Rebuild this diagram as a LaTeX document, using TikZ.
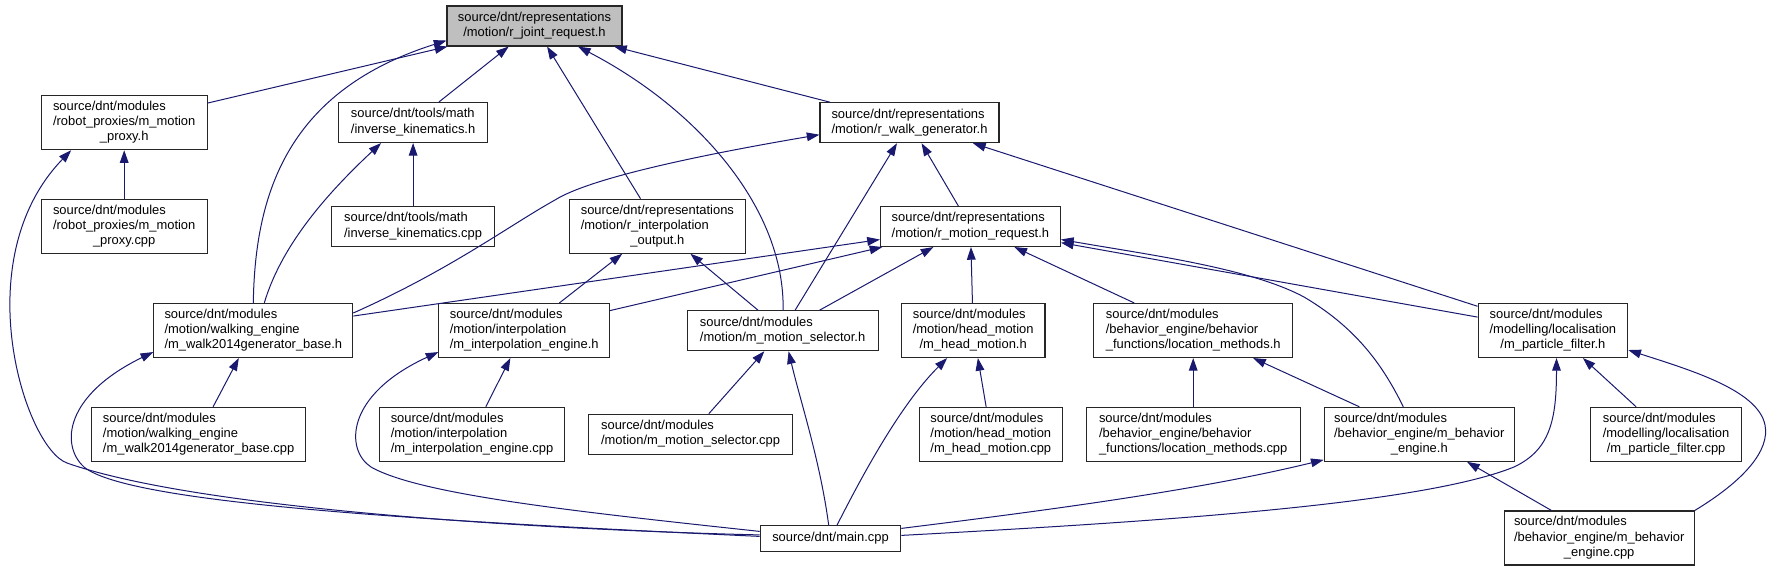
\documentclass[tikz,border=0pt]{standalone}
\usepackage{fontspec}
\setmainfont{Liberation Sans}
\usetikzlibrary{arrows.meta,calc}
\definecolor{edgeblue}{HTML}{191970}
\definecolor{focusgray}{HTML}{BFBFBF}
\newcommand\lns[1]{\begin{tabular}{@{}l@{}}#1\end{tabular}}
\newcommand\lc[1]{\multicolumn{1}{@{}c@{}}{#1}}
\begin{document}
\begin{tikzpicture}[x=0.75pt,y=-0.75pt,
  nbox/.style args={#1/#2}{draw=black!85, line width=0.8pt, fill=white, inner sep=0pt,
    minimum width=#1*0.75pt, minimum height=#2*0.75pt,
    font=\fontsize{9.7}{11.4}\selectfont},
  dep/.style={draw=edgeblue, line width=0.75pt, -{Triangle[length=9.5pt,width=6.5pt]}}]
\fill[white] (0,0) rectangle (1771,572);
\useasboundingbox (0,0) rectangle (1771,572);

% nodes
\node[nbox=175/40, fill=focusgray] (rj) at (534.5,26) {\lns{source/dnt/representations\\\lc{/motion/r\_joint\_request.h}}};
\node[nbox=165.7/54] (mp) at (124.2,122.7) {\lns{source/dnt/modules\\/robot\_proxies/m\_motion\\\lc{\_proxy.h}}};
\node[nbox=165.7/54] (mpc) at (124.2,226.2) {\lns{source/dnt/modules\\/robot\_proxies/m\_motion\\\lc{\_proxy.cpp}}};
\node[nbox=149.6/40] (ik) at (413.1,122.5) {\lns{source/dnt/tools/math\\\lc{/inverse\_kinematics.h}}};
\node[nbox=162.6/40] (ikc) at (413.1,226.5) {\lns{source/dnt/tools/math\\\lc{/inverse\_kinematics.cpp}}};
\node[nbox=179/40] (rw) at (909.5,122.7) {\lns{source/dnt/representations\\\lc{/motion/r\_walk\_generator.h}}};
\node[nbox=176/54] (rio) at (657.4,226.2) {\lns{source/dnt/representations\\/motion/r\_interpolation\\\lc{\_output.h}}};
\node[nbox=180/40] (rmr) at (970.4,226.5) {\lns{source/dnt/representations\\\lc{/motion/r\_motion\_request.h}}};
\node[nbox=199/54] (wb) at (253.3,330.5) {\lns{source/dnt/modules\\/motion/walking\_engine\\\lc{/m\_walk2014generator\_base.h}}};
\node[nbox=170.6/54] (ie) at (524.2,330.5) {\lns{source/dnt/modules\\/motion/interpolation\\\lc{/m\_interpolation\_engine.h}}};
\node[nbox=191/40] (ms) at (782.6,330.7) {\lns{source/dnt/modules\\\lc{/motion/m\_motion\_selector.h}}};
\node[nbox=143.6/54] (hm) at (973.2,330.5) {\lns{source/dnt/modules\\/motion/head\_motion\\\lc{/m\_head\_motion.h}}};
\node[nbox=198.6/54] (lm) at (1193.2,330.5) {\lns{source/dnt/modules\\/behavior\_engine/behavior\\\lc{\_functions/location\_methods.h}}};
\node[nbox=149.7/54] (pf) at (1552.9,330.5) {\lns{source/dnt/modules\\/modelling/localisation\\\lc{/m\_particle\_filter.h}}};
\node[nbox=213.6/54] (wbc) at (198.6,434.3) {\lns{source/dnt/modules\\/motion/walking\_engine\\\lc{/m\_walk2014generator\_base.cpp}}};
\node[nbox=184.9/54] (iec) at (472,434.3) {\lns{source/dnt/modules\\/motion/interpolation\\\lc{/m\_interpolation\_engine.cpp}}};
\node[nbox=204.4/40] (msc) at (690.6,434.2) {\lns{source/dnt/modules\\\lc{/motion/m\_motion\_selector.cpp}}};
\node[nbox=142.8/54] (hmc) at (990.8,434.3) {\lns{source/dnt/modules\\/motion/head\_motion\\\lc{/m\_head\_motion.cpp}}};
\node[nbox=213.8/54] (lmc) at (1193.2,434.3) {\lns{source/dnt/modules\\/behavior\_engine/behavior\\\lc{\_functions/location\_methods.cpp}}};
\node[nbox=190.2/54] (be) at (1419.3,434.3) {\lns{source/dnt/modules\\/behavior\_engine/m\_behavior\\\lc{\_engine.h}}};
\node[nbox=150.4/54] (pfc) at (1666.1,434.3) {\lns{source/dnt/modules\\/modelling/localisation\\\lc{/m\_particle\_filter.cpp}}};
\node[nbox=140.5/25.3] (main) at (830.5,538.4) {source/dnt/main.cpp};
\node[nbox=190.1/54] (bec) at (1599.2,538) {\lns{source/dnt/modules\\/behavior\_engine/m\_behavior\\\lc{\_engine.cpp}}};

% straight edges
\draw[dep] (mp) -- (rj);
\draw[dep] (ik) -- (rj);
\draw[dep] (rio) -- (rj);
\draw[dep] (rw) -- (rj);
\draw[dep] (mpc) -- (mp);
\draw[dep] (ikc) -- (ik);
\draw[dep] (ms) -- (rw);
\draw[dep] (rmr) -- (rw);
\draw[dep] (pf) -- (rw);
\draw[dep] (ie) -- (rio);
\draw[dep] (ms) -- (rio);
\draw[dep] (wb) -- (rmr);
\draw[dep] (ie) -- (rmr);
\draw[dep] (ms) -- (rmr);
\draw[dep] (hm) -- (rmr);
\draw[dep] (lm) -- (rmr);
\draw[dep] (pf) -- (rmr);
\draw[dep] (wbc) -- (wb);
\draw[dep] (iec) -- (ie);
\draw[dep] (msc) -- (ms);
\draw[dep] (hmc) -- (hm);
\draw[dep] (lmc) -- (lm);
\draw[dep] (be) -- (lm);
\draw[dep] (pfc) -- (pf);
\draw[dep] (bec) -- (be);

% curved edges
\draw[dep] (wb.north) .. controls (255,190) and (290,90) .. ($(rj.south west)+(0,-6)$);
\draw[dep] ($(wb.north)+(11,0)$) .. controls (280,250) and (320,200) .. ($(ik.south)+(-32,0)$);
\draw[dep] ($(wb.north east)+(0,10)$) .. controls (450,270) and (510,225) .. (555,200)
   .. controls (590,178) and (700,155) .. ($(rw.west)+(0,12)$);
\draw[dep] ($(ms.north)+(0.5,0)$) .. controls (785,210) and (700,110) .. ($(rj.south)+(43.5,0)$);
\draw[dep] ($(main.west)+(0,-3.5)$) .. controls (550,530) and (200,510) .. (67,463)
   .. controls (25,448) and (-35,260) .. ($(mp.south)+(-53,0)$);
\draw[dep] ($(main.west)+(0,-2)$) .. controls (450,522) and (130,505) .. (84,467)
   .. controls (60,445) and (65,395) .. ($(wb.south west)+(0,-6)$);
\draw[dep] ($(main.west)+(0,-7)$) .. controls (580,512) and (420,495) .. (371,467)
   .. controls (345,450) and (345,395) .. ($(ie.south west)+(0,-6)$);
\draw[dep] ($(main.north)+(-1.8,0)$) .. controls (820,460) and (800,400) .. ($(ms.south)+(6,0)$);
\draw[dep] ($(main.north)+(6.5,0)$) .. controls (870,460) and (905,400) .. ($(hm.south)+(-26,0)$);
\draw[dep] ($(main.east)+(0,-10)$) .. controls (1050,510) and (1200,490) .. ($(be.south west)+(0,-2)$);
\draw[dep] ($(main.east)+(0,-3)$) .. controls (1150,522) and (1420,505) .. (1514,467)
   .. controls (1550,450) and (1556.5,420) .. ($(pf.south)+(3.6,0)$);
\draw[dep] (bec.north east) .. controls (1745,480) and (1770,450) .. (1765,425)
   .. controls (1758,390) and (1690,370) .. ($(pf.south east)+(0,-8)$);
\draw[dep] ($(be.north)+(-16,0)$) .. controls (1385,370) and (1360,330) .. (1304,297)
   .. controls (1250,268) and (1150,255) .. ($(rmr.east)+(0,13)$);
\end{tikzpicture}
\end{document}
